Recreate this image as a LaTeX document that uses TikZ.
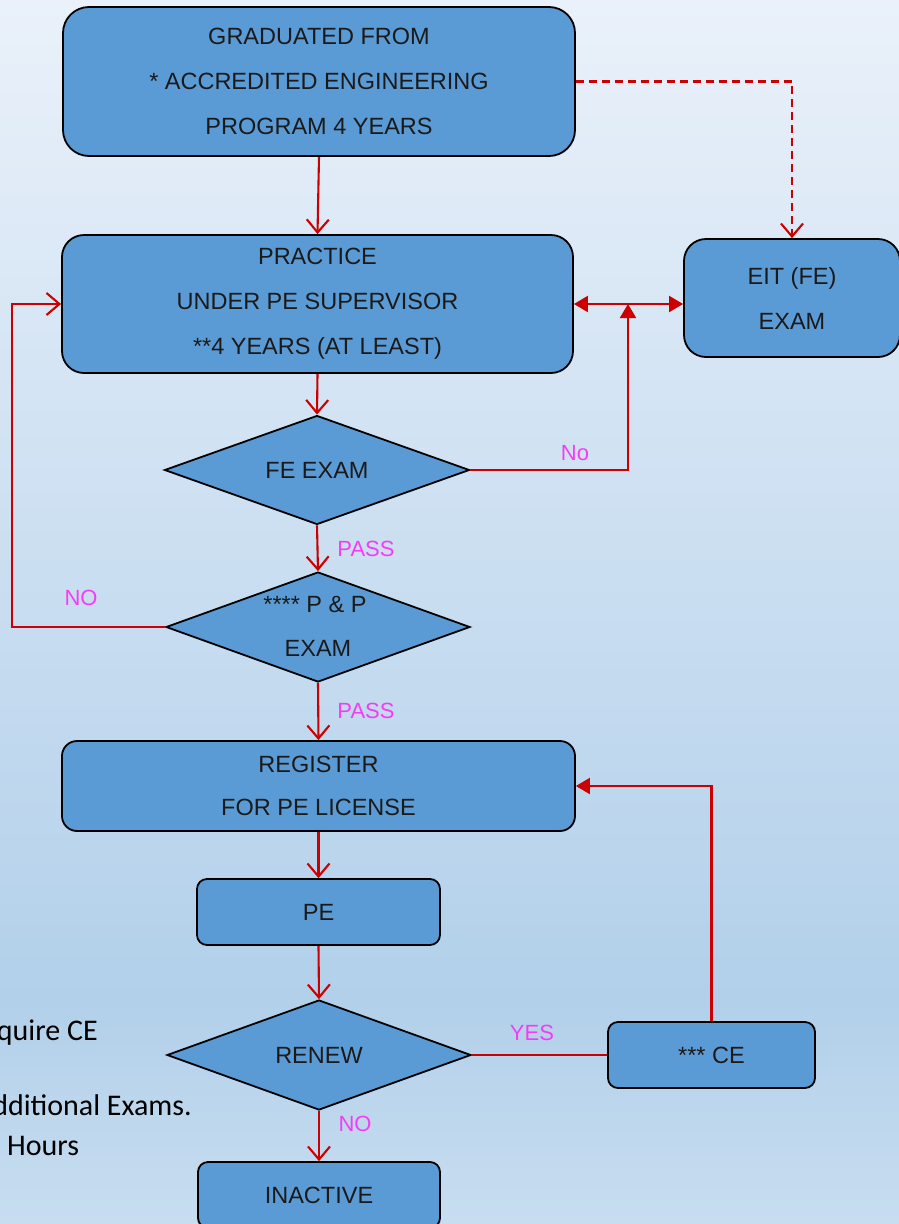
\documentclass[tikz,border=0pt]{standalone}
\usepackage{fontspec}
\setmainfont{Liberation Sans}
\newfontfamily\notefont{Carlito}
\usetikzlibrary{shapes.geometric,arrows.meta,calc}

\definecolor{boxblue}{HTML}{5B9BD5}
\definecolor{flowred}{HTML}{CC0000}
\definecolor{lblpink}{HTML}{F53CF5}
\definecolor{bgtop}{HTML}{EAF1FA}
\definecolor{bgmid}{HTML}{B2D0EA}
\definecolor{bgbot}{HTML}{C8DDF0}
\definecolor{ink}{HTML}{1A1A1A}

\begin{document}
\begin{tikzpicture}[x=1pt,y=-1pt,
  box/.style={draw=black, line width=1.8pt, fill=boxblue, rectangle, text=ink,
    font=\fontsize{23.5}{45}\selectfont, align=center, inner sep=0pt},
  dia/.style={draw=black, line width=1.8pt, fill=boxblue, diamond, aspect=2.8, inner sep=0pt,
    minimum width=304pt, minimum height=110pt, text=ink, font=\fontsize{23.5}{28}\selectfont},
  txt/.style={text=ink, font=\fontsize{23.5}{28}\selectfont, inner sep=0pt},
  lbl/.style={text=lblpink, font=\fontsize{22}{26}\selectfont, inner sep=0pt},
  note/.style={text=black, font=\notefont\fontsize{30}{36}\selectfont, inner sep=0pt},
  flow/.style={draw=flowred, line width=2.1pt},
  openarrow/.style={flow, -{Straight Barb[length=13pt,width=22pt]}},
  fillarrow/.style={flow, -{Triangle[length=14pt,width=16pt]}},
]
\useasboundingbox (0,0) rectangle (899,1224);

% background wash
\fill[top color=bgtop, bottom color=bgmid] (0,0) rectangle (899,1000.5);
\fill[top color=bgmid, bottom color=bgbot] (0,1000) rectangle (899,1224);

\begin{scope}
\clip (0,0) rectangle (899,1224);

% side notes
\node[note, anchor=base east] (n1) at (98,1040) {quire CE};
\node[note, anchor=base east] (n2) at (192,1115) {dditional Exams.};
\node[note, anchor=base west] (n3) at (7,1155) {Hours};

% process boxes
\node[box, rounded corners=26pt, minimum width=512pt, minimum height=149pt]
  (grad) at (319,81.5) {GRADUATED FROM\\* ACCREDITED ENGINEERING\\PROGRAM 4 YEARS};
\node[box, rounded corners=22pt, minimum width=511pt, minimum height=138pt]
  (prac) at (317.5,304) {PRACTICE\\UNDER PE SUPERVISOR\\**4 YEARS (AT LEAST)};
\node[box, rounded corners=22pt, minimum width=216pt, minimum height=118pt]
  (eit) at (792,298) {EIT (FE)\\EXAM};
\node[box, rounded corners=15pt, minimum width=513pt, minimum height=90pt,
  font=\fontsize{23.5}{43}\selectfont]
  (reg) at (318.5,786) {REGISTER\\FOR PE LICENSE};
\node[box, rounded corners=10pt, minimum width=243pt, minimum height=66pt]
  (pe) at (318.5,912) {PE};
\node[box, rounded corners=10pt, minimum width=207pt, minimum height=66pt]
  (ce) at (711.5,1055) {*** CE};
\node[box, rounded corners=10pt, minimum width=242pt, minimum height=66pt]
  (ina) at (319,1195) {INACTIVE};

% decisions
\node[dia, minimum width=305pt, minimum height=109pt] (fe) at (317,470) {FE EXAM};
\node[dia] (pp) at (318,627) {};
\node[txt] (pp1) at (315,604) {**** P \& P};
\node[txt] (pp2) at (318,648) {EXAM};
\node[dia] (ren) at (319,1055) {RENEW};

% main flow
\draw[openarrow] (grad.south) -- (prac.north);
\draw[openarrow] (prac.south) -- (fe.north);
\draw[openarrow] (fe.south) -- (pp.north);
\draw[openarrow] (pp.south) -- (reg.north);
\draw[openarrow] (reg.south) -- (pe.north);
\draw[openarrow] (pe.south) -- (ren.north);
\draw[openarrow] (ren.south) -- (ina.north);

% side branches
\draw[openarrow, dash pattern=on 8pt off 5pt] (grad.east) -| (eit.north);
\draw[fillarrow, {Triangle[length=14pt,width=16pt]}-{Triangle[length=14pt,width=16pt]}]
  (prac.east) -- (prac.east -| eit.west);
\coordinate (join) at (628,304);
\draw[fillarrow] (fe.east) -| (join);
\draw[openarrow] (pp.west) -- ++(-153,0) |- (prac.west);
\draw[flow] (ren.east) -- (ce.west);
\draw[fillarrow] (ce.north) |- (reg.east);

% branch labels
\node[lbl] (lno1) at (575,453) {No};
\node[lbl] (lpass1) at (366,549) {PASS};
\node[lbl] (lno2) at (81,598) {NO};
\node[lbl] (lpass2) at (366,711) {PASS};
\node[lbl] (lyes) at (532,1033) {YES};
\node[lbl] (lno3) at (355,1124) {NO};
\end{scope}
\end{tikzpicture}
\end{document}
